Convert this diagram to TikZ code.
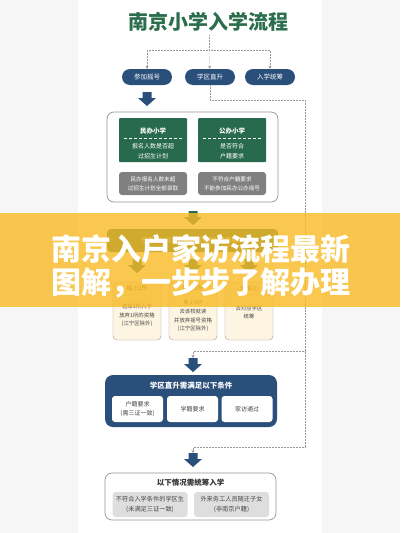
\documentclass[tikz,border=0pt]{standalone}
\usepackage{fontspec}
\setmainfont{Noto Sans CJK SC}
\usetikzlibrary{arrows.meta,calc,positioning}

\definecolor{titlegreen}{RGB}{44,110,76}
\definecolor{boxgreen}{RGB}{40,106,78}
\definecolor{navyblue}{RGB}{41,79,122}
\definecolor{darkgraybox}{RGB}{128,128,128}
\definecolor{lightgraybox}{RGB}{222,222,222}
\definecolor{creambox}{RGB}{253,245,225}
\definecolor{linegray}{RGB}{150,150,150}
\definecolor{textgray}{RGB}{70,70,70}
\definecolor{banneryellow}{RGB}{249,186,36}
\definecolor{pagegray}{RGB}{246,246,246}

% block arrow pointing down, top centre at #1
\newcommand{\downblock}[2]{%
  \fill[#2] ($(#1)+(-4.5,0)$) -- ++(9,0) -- ++(0,6) -- ++(4.5,0)
    -- ++(-9,8) -- ++(-9,-8) -- ++(4.5,0) -- cycle;}

\begin{document}
\begin{tikzpicture}[x=1pt,y=-1pt,>={Stealth[length=3pt,width=3pt]},
  pill/.style={fill=navyblue,text=white,rounded corners=8pt,
    minimum width=50pt,minimum height=16pt,inner sep=0pt,
    font=\fontsize{6.5}{8}\selectfont},
  panel/.style={draw=linegray,fill=white,rounded corners=7pt,
    line width=0.7pt,inner sep=0pt},
  greenbox/.style={fill=boxgreen,minimum width=68pt,minimum height=44pt,
    inner sep=0pt,rounded corners=1pt},
  greenhead/.style={text=white,font=\bfseries\fontsize{6.5}{8}\selectfont},
  greentext/.style={text=white,align=center,
    font=\fontsize{6}{10}\selectfont},
  graybox/.style={fill=darkgraybox,rounded corners=3pt,minimum width=68pt,
    minimum height=23pt,inner sep=0pt,text=white,align=center,
    font=\fontsize{5.6}{9}\selectfont},
  creamcard/.style={draw=linegray,fill=creambox,rounded corners=4pt,
    minimum width=48pt,minimum height=58pt,inner sep=0pt},
  cardtext/.style={text=textgray,align=center,
    font=\fontsize{5.4}{8.6}\selectfont},
  whitecard/.style={fill=white,rounded corners=3pt,minimum width=51pt,
    minimum height=26pt,inner sep=0pt,text=textgray,align=center,
    font=\fontsize{6}{9}\selectfont},
  lightcard/.style={fill=lightgraybox,rounded corners=3pt,minimum width=75pt,
    minimum height=25pt,inner sep=0pt,text=textgray,align=center,
    font=\fontsize{6.2}{9.5}\selectfont},
  link/.style={linegray,densely dotted,line width=0.5pt}]

% page
\fill[pagegray] (0,0) rectangle (400,533);
\fill[white] (78,0) rectangle (322,533);

\node[text=titlegreen,font=\bfseries\fontsize{20}{24}\selectfont]
  (title) at (208,22) {南京小学入学流程};

% three ways
\node[pill] (lottery) at (147,77) {参加摇号};
\node[pill] (direct) at (210,77) {学区直升};
\node[pill] (overall) at (270,77) {入学统筹};

\coordinate (split) at (209,50);
\draw[link] (split |- title.south) -- (split);
\draw[link,->] (split) -| (lottery);
\draw[link,->] (split) -- (direct);
\draw[link,->] (split) -| (overall);

% lottery
\coordinate (arr1) at (147,92);
\downblock{arr1}{navyblue}

\node[panel,minimum width=171pt,minimum height=90pt] (schools) at (192.5,157) {};
\node[greenbox] (private) at (153,140) {};
\node[greenbox] (public) at (232,140) {};
\node[greenhead] at (153,131) {民办小学};
\node[greenhead] at (232,131) {公办小学};
\draw[white,densely dashed,line width=0.4pt] (124,138) -- (182,138);
\draw[white,densely dashed,line width=0.4pt] (203,138) -- (261,138);
\node[greentext] at (153,151) {报名人数是否超\\过招生计划};
\node[greentext] at (232,151) {是否符合\\户籍要求};
\node[graybox] (privres) at (153,183.5) {民办报名人数未超\\过招生计划全部录取};
\node[graybox] (pubres) at (232,183.5) {不符合户籍要求\\不能参加民办公办摇号};

\coordinate (arr2) at (193,211);
\downblock{arr2}{boxgreen}

\node[fill=boxgreen,rounded corners=4pt,minimum width=171pt,minimum height=23pt,
  inner sep=0pt,text=white,font=\fontsize{6}{8}\selectfont]
  (result) at (192.5,240.5) {任意参加公办、民办摇号后的录取结果};

\foreach \ax/\an in {137/a,193/b,249/c}{
  \coordinate (split\an) at (\ax,259);
  \downblock{split\an}{boxgreen}
}

\node[creamcard] (win2) at (137,311) {};
\node[creamcard] (win1) at (193,311) {};
\node[creamcard] (nowin) at (249,311) {};
\node[cardtext,font=\fontsize{6}{8}\selectfont] at (137,288) {摇上2所};
\node[cardtext,font=\fontsize{6}{8}\selectfont] at (193,288) {摇上1所};
\node[cardtext,font=\fontsize{6}{8}\selectfont] at (249,288) {未摇上};
\node[cardtext] at (137,315.5) {选择1所入学\\放弃1所的资格\\(江宁区除外)};
\node[cardtext] at (193,316) {摇上1所\\去该校就读\\并放弃摇号资格\\(江宁区除外)};
\node[cardtext] at (249,312.5) {去对应学区\\统筹};

% direct admission
\coordinate (railtop) at (305,100);
\coordinate (railmid) at (305,351);
\coordinate (railbot) at (305,447);
\coordinate (arr3) at (193,358);
\coordinate (arr4) at (193,453);
\draw[link] (direct) |- (railtop) -- (railbot);
\draw[link,->] (railmid) -| (arr3);
\draw[link,->] (railbot) -| (arr4);
\downblock{arr3}{navyblue}

\node[fill=navyblue,rounded corners=8pt,minimum width=172pt,minimum height=52pt,
  inner sep=0pt] (conds) at (191,401) {};
\node[text=white,font=\bfseries\fontsize{7.5}{9}\selectfont] at (191,386)
  {学区直升需满足以下条件};
\node[whitecard] (huji) at (137.5,409) {户籍要求\\(需三证一致)};
\node[whitecard] (xueji) at (192.5,409) {学籍要求};
\node[whitecard] (visit) at (247,409) {家访通过};

% overall arrangement
\downblock{arr4}{navyblue}
\node[panel,minimum width=171pt,minimum height=47pt] (arrange) at (190.5,496.5) {};
\node[text=textgray!70!black,font=\bfseries\fontsize{7.5}{9}\selectfont]
  at (190.5,483) {以下情况需统筹入学};
\node[lightcard] (unmet) at (150,504.5) {不符合入学条件的学区生\\(未满足三证一致)};
\node[lightcard] (migrant) at (231.5,504.5) {外来务工人员随迁子女\\(非南京户籍)};

% banner
\fill[banneryellow,opacity=0.8] (0,213) rectangle (400,307);
\node[text=white,font=\bfseries\fontsize{30}{32}\selectfont]
  (bannera) at (201,249) {南京入户家访流程最新};
\node[text=white,font=\bfseries\fontsize{30}{32}\selectfont]
  (bannerb) at (201,283) {图解，一步步了解办理};

\end{tikzpicture}
\end{document}
